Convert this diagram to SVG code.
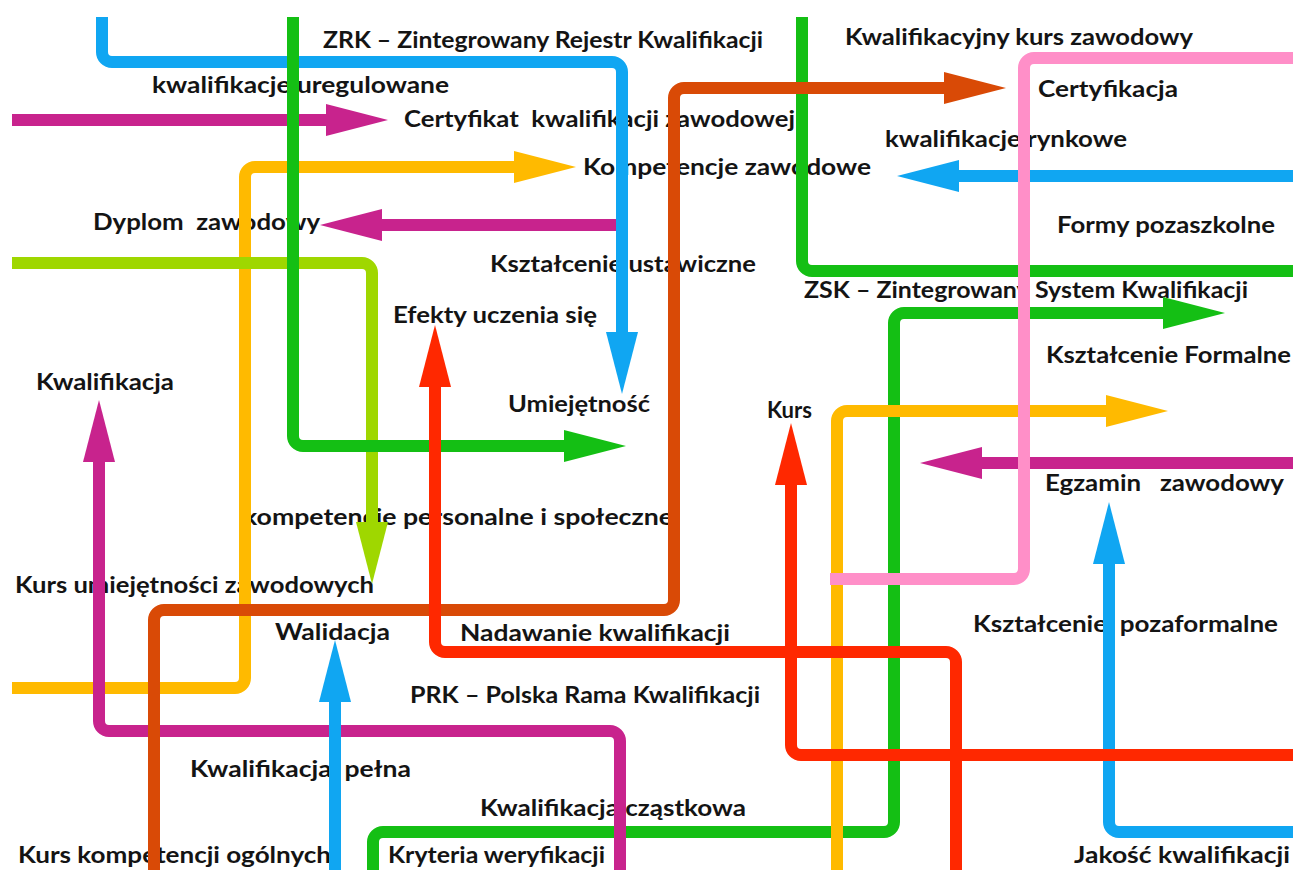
<svg xmlns="http://www.w3.org/2000/svg" width="1293" height="870" viewBox="0 0 1293 870">
<style>
.t{font-family:Lato,"Liberation Sans","DejaVu Sans",sans-serif;font-weight:700;font-size:22px;fill:#141414;white-space:pre}
.l{fill:none;stroke-width:12;stroke-linecap:butt;stroke-linejoin:round}
.blue{stroke:#10a6f2}.green{stroke:#14bf14}.mag{stroke:#c8238d}.yel{stroke:#ffba00}
.lime{stroke:#9fd700}.red{stroke:#ff2800}.brown{stroke:#d94a06}.pink{stroke:#ff8fc8}
</style>
<defs>
<marker id="a-blue" markerUnits="userSpaceOnUse" viewBox="0 -16 62 32" markerWidth="62" markerHeight="32" refX="0" refY="0" orient="auto"><path d="M0,-16 L62,0 L0,16 z" fill="#10a6f2"/></marker>
<marker id="a-green" markerUnits="userSpaceOnUse" viewBox="0 -16 62 32" markerWidth="62" markerHeight="32" refX="0" refY="0" orient="auto"><path d="M0,-16 L62,0 L0,16 z" fill="#14bf14"/></marker>
<marker id="a-mag" markerUnits="userSpaceOnUse" viewBox="0 -16 62 32" markerWidth="62" markerHeight="32" refX="0" refY="0" orient="auto"><path d="M0,-16 L62,0 L0,16 z" fill="#c8238d"/></marker>
<marker id="a-yel" markerUnits="userSpaceOnUse" viewBox="0 -16 62 32" markerWidth="62" markerHeight="32" refX="0" refY="0" orient="auto"><path d="M0,-16 L62,0 L0,16 z" fill="#ffba00"/></marker>
<marker id="a-lime" markerUnits="userSpaceOnUse" viewBox="0 -16 62 32" markerWidth="62" markerHeight="32" refX="0" refY="0" orient="auto"><path d="M0,-16 L62,0 L0,16 z" fill="#9fd700"/></marker>
<marker id="a-red" markerUnits="userSpaceOnUse" viewBox="0 -16 62 32" markerWidth="62" markerHeight="32" refX="0" refY="0" orient="auto"><path d="M0,-16 L62,0 L0,16 z" fill="#ff2800"/></marker>
<marker id="a-brown" markerUnits="userSpaceOnUse" viewBox="0 -16 62 32" markerWidth="62" markerHeight="32" refX="0" refY="0" orient="auto"><path d="M0,-16 L62,0 L0,16 z" fill="#d94a06"/></marker>
</defs>
<rect width="1293" height="870" fill="#ffffff"/>
<g id="labels">
<text class="t" x="323" y="48" textLength="440" lengthAdjust="spacingAndGlyphs">ZRK – Zintegrowany Rejestr Kwalifikacji</text>
<text class="t" x="845" y="45" textLength="348" lengthAdjust="spacingAndGlyphs">Kwalifikacyjny kurs zawodowy</text>
<text class="t" x="152" y="93" textLength="297" lengthAdjust="spacingAndGlyphs">kwalifikacje uregulowane</text>
<text class="t" x="1038" y="97" textLength="140" lengthAdjust="spacingAndGlyphs">Certyfikacja</text>
<text class="t" x="404" y="127" textLength="391" lengthAdjust="spacingAndGlyphs">Certyfikat  kwalifikacji zawodowej</text>
<text class="t" x="885" y="147" textLength="242" lengthAdjust="spacingAndGlyphs">kwalifikacje rynkowe</text>
<text class="t" x="583" y="175" textLength="288" lengthAdjust="spacingAndGlyphs">Kompetencje zawodowe</text>
<text class="t" x="93" y="230" textLength="227" lengthAdjust="spacingAndGlyphs">Dyplom  zawodowy</text>
<text class="t" x="1057" y="233" textLength="218" lengthAdjust="spacingAndGlyphs">Formy pozaszkolne</text>
<text class="t" x="490" y="272" textLength="266" lengthAdjust="spacingAndGlyphs">Kształcenie ustawiczne</text>
<text class="t" x="804" y="298" textLength="444" lengthAdjust="spacingAndGlyphs">ZSK – Zintegrowany System Kwalifikacji</text>
<text class="t" x="393" y="323" textLength="204" lengthAdjust="spacingAndGlyphs">Efekty uczenia się</text>
<text class="t" x="1046" y="363" textLength="245" lengthAdjust="spacingAndGlyphs">Kształcenie Formalne</text>
<text class="t" x="36" y="390" textLength="138" lengthAdjust="spacingAndGlyphs">Kwalifikacja</text>
<text class="t" x="508" y="412" textLength="142" lengthAdjust="spacingAndGlyphs">Umiejętność</text>
<text class="t" x="767" y="418" textLength="45" lengthAdjust="spacingAndGlyphs">Kurs</text>
<text class="t" x="1045" y="491" textLength="239" lengthAdjust="spacingAndGlyphs">Egzamin   zawodowy</text>
<text class="t" x="243" y="525" textLength="430" lengthAdjust="spacingAndGlyphs">kompetencje personalne i społeczne</text>
<text class="t" x="15" y="593" textLength="359" lengthAdjust="spacingAndGlyphs">Kurs umiejętności zawodowych</text>
<text class="t" x="275" y="640" textLength="115" lengthAdjust="spacingAndGlyphs">Walidacja</text>
<text class="t" x="460" y="641" textLength="270" lengthAdjust="spacingAndGlyphs">Nadawanie kwalifikacji</text>
<text class="t" x="973" y="632" textLength="305" lengthAdjust="spacingAndGlyphs">Kształcenie  pozaformalne</text>
<text class="t" x="410" y="703" textLength="350" lengthAdjust="spacingAndGlyphs">PRK – Polska Rama Kwalifikacji</text>
<text class="t" x="190" y="777" textLength="221" lengthAdjust="spacingAndGlyphs">Kwalifikacja  pełna</text>
<text class="t" x="480" y="816" textLength="266" lengthAdjust="spacingAndGlyphs">Kwalifikacja cząstkowa</text>
<text class="t" x="18" y="863" textLength="313" lengthAdjust="spacingAndGlyphs">Kurs kompetencji ogólnych</text>
<text class="t" x="388" y="863" textLength="217" lengthAdjust="spacingAndGlyphs">Kryteria weryfikacji</text>
<text class="t" x="1074" y="863" textLength="216" lengthAdjust="spacingAndGlyphs">Jakość kwalifikacji</text>
</g>
<g id="lines">
<path id="green-lower" class="l green" d="M373,870 V842 A10,10 0 0 1 383,832 H884 A10,10 0 0 0 894,822 V323 A10,10 0 0 1 904,313 H1163" marker-end="url(#a-green)"/>
<path id="yellow-right" class="l yel" d="M837,870 V421 A10,10 0 0 1 847,411 H1106" marker-end="url(#a-yel)"/>
<path id="blue-rynkowe" class="l blue" d="M1293,176 H959" marker-end="url(#a-blue)"/>
<path id="mag-egzamin" class="l mag" d="M1293,463 H982" marker-end="url(#a-mag)"/>
<path id="blue-egzamin" class="l blue" d="M1293,832 H1119 A10,10 0 0 1 1109,822 V564" marker-end="url(#a-blue)"/>
<path id="green-zsk" class="l green" d="M802,17 V261 A10,10 0 0 0 812,271 H1293"/>
<path id="pink" class="l pink" d="M1293,58 H1034 A10,10 0 0 0 1024,68 V569 A10,10 0 0 1 1014,579 H830"/>
<path id="yellow-left" class="l yel" d="M12,688 H235 A10,10 0 0 0 245,678 V177 A10,10 0 0 1 255,167 H514" marker-end="url(#a-yel)"/>
<path id="lime" class="l lime" d="M12,263 H362 A10,10 0 0 1 372,273 V522" marker-end="url(#a-lime)"/>
<path id="mag-cert" class="l mag" d="M12,120 H326" marker-end="url(#a-mag)"/>
<path id="mag-dyplom" class="l mag" d="M616,225 H382" marker-end="url(#a-mag)"/>
<path id="mag-kwal" class="l mag" d="M620,870 V741 A10,10 0 0 0 610,731 H109 A10,10 0 0 1 99,721 V462" marker-end="url(#a-mag)"/>
<path id="blue-walid" class="l blue" d="M335,870 V702" marker-end="url(#a-blue)"/>
<path id="brown" class="l brown" d="M154,870 V620 A10,10 0 0 1 164,610 H664 A10,10 0 0 0 674,600 V98 A10,10 0 0 1 684,88 H944" marker-end="url(#a-brown)"/>
<path id="blue-top" class="l blue" d="M102,17 V52 A10,10 0 0 0 112,62 H612 A10,10 0 0 1 622,72 V332" marker-end="url(#a-blue)"/>
<path id="green-zrk" class="l green" d="M293,17 V436 A10,10 0 0 0 303,446 H564" marker-end="url(#a-green)"/>
<path id="red-nadaw" class="l red" d="M956,870 V662 A10,10 0 0 0 946,652 H445 A10,10 0 0 1 435,642 V387" marker-end="url(#a-red)"/>
<path id="red-kurs" class="l red" d="M1293,755 H801 A10,10 0 0 1 791,745 V485" marker-end="url(#a-red)"/>
</g>
</svg>
